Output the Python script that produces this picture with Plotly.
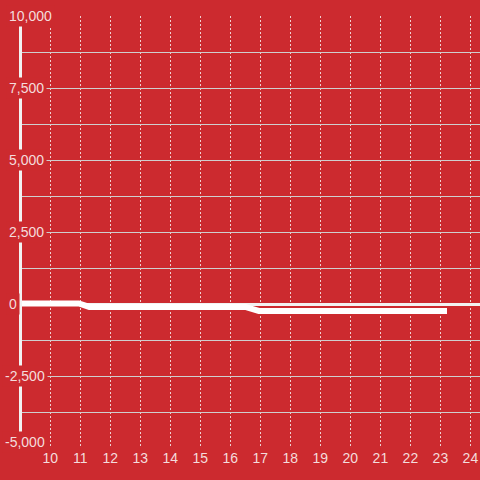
import plotly.graph_objects as go

# series
xs = [8.8, 10.95, 11.3, 16.5, 16.95, 23.22]
ys = [20, 20, -100, -100, -240, -240]

x_ticks = list(range(10, 25))
y_tick_vals = [10000, 7500, 5000, 2500, 0, -2500, -5000]
y_tick_text = ["10,000", "7,500", "5,000", "2,500", "0", "-2,500", "-5,000"]

BG = "#cc2a2f"
LABEL = "#f4dcdc"

fig = go.Figure()
fig.add_trace(
    go.Scatter(
        x=xs,
        y=ys,
        mode="lines",
        line=dict(color="#ffffff", width=6),
        showlegend=False,
        hoverinfo="skip",
    )
)

y_min = min(y_tick_vals)
for val, txt in zip(y_tick_vals, y_tick_text):
    fig.add_annotation(
        x=0,
        xref="paper",
        y=val,
        yref="y",
        text=txt,
        showarrow=False,
        xanchor="left",
        xshift=-16 if val >= 0 else -20,
        # lowest label sits a little above its line, clear of the x labels
        yshift=6 if val == y_min else 0,
        bgcolor=BG,
        borderpad=2,
        font=dict(family="Liberation Sans, Arial, sans-serif", size=14, color=LABEL),
    )

fig.update_xaxes(
    range=[9.057, 24.32],
    tickvals=x_ticks,
    automargin=False,
    showgrid=True,
    gridcolor="#f0d0d0",
    griddash="2px,2px",
    gridwidth=1,
    zeroline=False,
    showline=False,
    ticks="",
    tickfont=dict(family="Liberation Sans, Arial, sans-serif", size=14, color=LABEL),
)
fig.update_yaxes(
    range=[-5000, 10000],
    dtick=1250,
    automargin=False,
    showgrid=True,
    gridcolor="#cfcfcf",
    gridwidth=1,
    zeroline=True,
    zerolinecolor="#f2f2f2",
    zerolinewidth=3,
    showline=True,
    linecolor="#f2f2f2",
    linewidth=3,
    showticklabels=False,
    ticks="",
)
fig.update_layout(
    width=480,
    height=480,
    paper_bgcolor=BG,
    plot_bgcolor=BG,
    margin=dict(l=22, r=0, t=16, b=32, autoexpand=False),
)
# the page's default body margin would shift the chart by 8px
fig.write_html(
    "out.html",
    config={"displayModeBar": False},
    post_script="document.body.style.margin='0';",
)
